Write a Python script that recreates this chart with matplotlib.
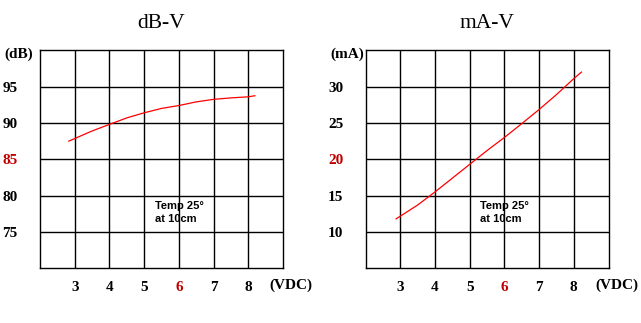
import matplotlib.pyplot as plt

# data
volts_db = [2.83, 3.5, 4.0, 4.5, 5.0, 5.5, 6.0, 6.5, 7.0, 7.5, 8.0, 8.19]
db = [87.5, 88.9, 89.8, 90.7, 91.4, 92.0, 92.4, 92.9, 93.25, 93.45, 93.6, 93.75]

volts_ma = [2.88, 3.5, 4.0, 4.5, 5.0, 5.5, 6.0, 6.5, 7.0, 7.5, 8.0, 8.22]
ma = [11.8, 13.7, 15.5, 17.4, 19.3, 21.2, 23.0, 24.9, 26.85, 28.9, 31.1, 32.0]

x_ticks = [3, 4, 5, 6, 7, 8]
db_ticks = [75, 80, 85, 90, 95]
ma_ticks = [10, 15, 20, 25, 30]

serif = 'Liberation Serif'
red_label = '#c00000'

fig = plt.figure(figsize=(6.41, 3.23), dpi=100)
H = 323.0
W = 641.0


def panel(left, title, xs, ys, yticks, ylim, yunit, red_y):
    ax = fig.add_axes([left / W, 1 - 268.3 / H, 243 / W, 218 / H])
    ax.plot(xs, ys, color='red', lw=0.9)
    ax.set_xlim(2, 9)
    ax.set_ylim(*ylim)
    ax.set_xticks(x_ticks)
    ax.set_yticks(yticks)
    ax.grid(True, color='black', lw=1.0)
    ax.set_axisbelow(True)
    for s in ax.spines.values():
        s.set_linewidth(1.0)
    ax.tick_params(length=0, labelsize=11)
    ax.tick_params(axis='x', pad=9)
    ax.tick_params(axis='y', pad=16)
    for lab in ax.get_xticklabels() + ax.get_yticklabels():
        lab.set_fontfamily(serif)
        lab.set_fontweight('bold')
    for lab in ax.get_xticklabels():
        if lab.get_text() == '6':
            lab.set_color(red_label)
    for lab in ax.get_yticklabels():
        if lab.get_text() == str(red_y):
            lab.set_color(red_label)
    ax.set_title(title, fontfamily=serif, fontsize=15.5, pad=16)
    ax.text(-0.145, 0.983, yunit, transform=ax.transAxes, ha='left', va='center',
            fontfamily=serif, fontsize=11, fontweight='bold')
    ax.text(0.944, -0.08, '(VDC)', transform=ax.transAxes, ha='left', va='center',
            fontfamily=serif, fontsize=11, fontweight='bold')
    ax.text(5.3, ylim[0] + (ylim[1] - ylim[0]) * 0.31, 'Temp 25°\nat 10cm',
            ha='left', va='top', fontsize=8, fontweight='bold',
            fontfamily='Liberation Sans', linespacing=1.35)
    return ax


panel(40, 'dB-V', volts_db, db, db_ticks, (70, 100), '(dB)', 85)
panel(365.5, 'mA-V', volts_ma, ma, ma_ticks, (5, 35), '(mA)', 20)

fig.savefig('out.png', dpi=100)
